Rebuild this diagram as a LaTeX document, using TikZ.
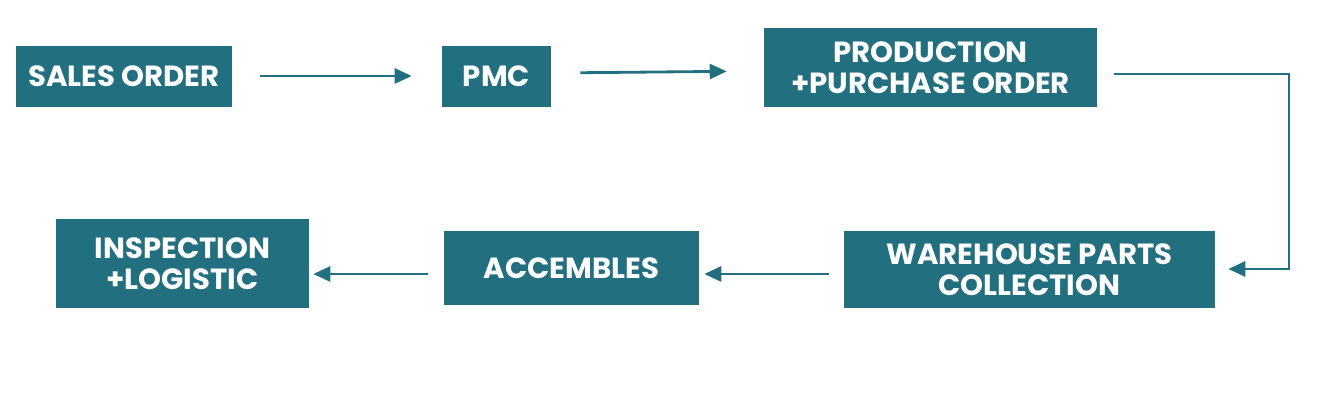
\documentclass[tikz,border=0pt]{standalone}
\usepackage{fontspec}
\setmainfont{Poppins}
\usetikzlibrary{arrows.meta}
\definecolor{boxteal}{HTML}{226F80}
\tikzset{
    >={Triangle[length=0.34cm,width=0.3cm]},
    blok/.style={fill=boxteal, text=white, align=center, inner sep=0pt,
        font=\bfseries\fontsize{16.6}{17.8}\selectfont},
    flow/.style={->, draw=boxteal, line width=1.6pt},
}
\begin{document}
\begin{tikzpicture}[x=0.02cm,y=-0.02cm]
            \useasboundingbox (0,0) rectangle (1334,401);

            \node[blok, minimum width=4.32cm, minimum height=1.22cm] (SO) at (124,76.5) {SALES ORDER};
            \node[blok, minimum width=2.18cm, minimum height=1.22cm] (PMC) at (496.5,76.5) {PMC};
            \node[blok, minimum width=6.66cm, minimum height=1.58cm] (PPO) at (930.5,67.5) {PRODUCTION\\+PURCHASE ORDER};
            \node[blok, minimum width=7.42cm, minimum height=1.54cm] (WPC) at (1029.5,269.5) {WAREHOUSE PARTS\\COLLECTION};
            \node[blok, minimum width=5.10cm, minimum height=1.48cm] (ACC) at (571.5,268) {ACCEMBLES};
            \node[blok, minimum width=5.06cm, minimum height=1.78cm] (IL) at (182.5,263.5) {INSPECTION\\+LOGISTIC};

            \coordinate (turn) at (1289,74);

            % top row
            \draw[flow, shorten <=0.56cm, shorten >=0.6cm] (SO.east |- 0,76) -- (PMC.west |- 0,76);
            \draw[flow, shorten <=0.58cm, shorten >=0.74cm] (PMC.east |- 0,73) -- (PPO.west |- 0,71);
            % down to the warehouse
            \draw[flow, shorten >=0.26cm] (PPO.east |- 0,74) ++(17,0) -- (turn) |- (WPC.east |- 0,269);
            % bottom row
            \draw[flow, shorten <=0.3cm, shorten >=0.1cm] (WPC.west |- 0,274) -- (ACC.east |- 0,274);
            \draw[flow, shorten <=0.32cm, shorten >=0.08cm] (ACC.west |- 0,274) -- (IL.east |- 0,274);
        \end{tikzpicture}
\end{document}
